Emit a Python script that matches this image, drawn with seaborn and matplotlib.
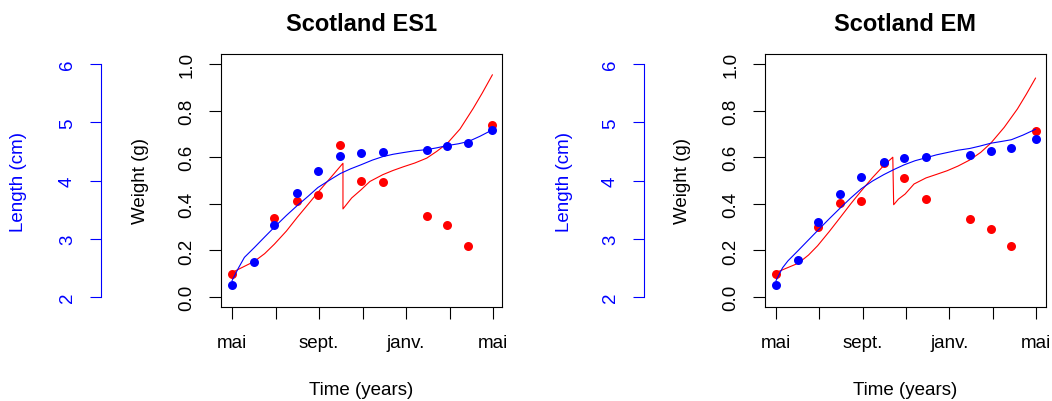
import numpy as np
import pandas as pd
import matplotlib
matplotlib.use("Agg")
import matplotlib.pyplot as plt
import seaborn as sns

# ---------------- data ----------------
titles = ["Scotland ES1", "Scotland EM"]
month_labels = ["mai", "", "sept.", "", "janv.", "", "mai"]
month_ticks = [0, 2, 4, 6, 8, 10, 12]

# ES1 observations
es1_len_t = [0, 1.03, 1.95, 2.99, 3.95, 4.98, 5.93, 6.93, 8.95, 9.90, 10.87, 11.97]
es1_len = [2.20, 2.60, 3.24, 3.78, 4.17, 4.42, 4.47, 4.49, 4.52, 4.59, 4.64, 4.87]
es1_wt_t = [0, 1.95, 2.99, 3.95, 4.98, 5.93, 6.93, 8.95, 9.90, 10.87, 11.97]
es1_wt = [0.099, 0.339, 0.411, 0.439, 0.654, 0.499, 0.494, 0.348, 0.310, 0.220, 0.740]
# ES1 fitted curves
es1_lfit_t = [0, 0.30, 0.57, 1.03, 1.50, 1.95, 2.50, 3.00, 3.50, 3.95, 4.50, 4.98, 5.45, 5.93, 6.45, 6.93,
              7.40, 7.88, 8.40, 8.95, 9.40, 9.90, 10.40, 10.87, 11.40, 11.97]
es1_lfit = [2.28, 2.50, 2.68, 2.85, 3.03, 3.20, 3.40, 3.57, 3.73, 3.88, 4.01, 4.12, 4.20, 4.27, 4.35, 4.41,
            4.45, 4.48, 4.51, 4.53, 4.56, 4.60, 4.63, 4.67, 4.76, 4.87]
es1_wfit_t = [0, 1.03, 1.50, 1.95, 2.50, 3.00, 3.50, 3.95, 4.55, 5.10, 5.10, 5.50, 5.93, 6.34, 6.93, 7.40,
              7.88, 8.40, 8.95, 9.41, 9.90, 10.48, 11.09, 11.50, 11.97]
es1_wfit = [0.105, 0.153, 0.186, 0.227, 0.283, 0.342, 0.398, 0.449, 0.514, 0.574, 0.378, 0.425, 0.460,
            0.496, 0.525, 0.543, 0.559, 0.575, 0.596, 0.625, 0.660, 0.721, 0.810, 0.875, 0.954]

# EM observations
em_len_t = [0, 1.03, 1.92, 2.97, 3.94, 4.97, 5.92, 6.92, 8.94, 9.91, 10.86, 11.98]
em_len = [2.20, 2.64, 3.29, 3.76, 4.06, 4.31, 4.38, 4.40, 4.44, 4.51, 4.55, 4.71]
em_wt_t = [0, 1.92, 2.97, 3.94, 4.97, 5.92, 6.92, 8.94, 9.91, 10.86, 11.98]
em_wt = [0.099, 0.302, 0.402, 0.413, 0.575, 0.509, 0.419, 0.333, 0.290, 0.220, 0.711]
# EM fitted curves
em_lfit_t = [0, 0.30, 0.55, 1.03, 1.50, 1.92, 2.45, 2.97, 3.45, 3.94, 4.45, 4.97, 5.45, 5.92, 6.42, 6.92,
             7.40, 7.90, 8.40, 8.94, 9.40, 9.91, 10.40, 10.86, 11.40, 11.98]
em_lfit = [2.28, 2.50, 2.62, 2.80, 2.98, 3.14, 3.34, 3.53, 3.70, 3.86, 3.99, 4.10, 4.19, 4.27, 4.34, 4.39,
           4.44, 4.48, 4.52, 4.55, 4.59, 4.64, 4.67, 4.70, 4.78, 4.88]
em_wfit_t = [0, 1.03, 1.50, 1.92, 2.45, 2.97, 3.45, 3.94, 4.45, 4.97, 5.39, 5.43, 5.65, 5.96, 6.37, 6.92,
             7.40, 7.90, 8.40, 8.94, 9.45, 9.91, 10.53, 11.14, 11.55, 11.98]
em_wfit = [0.105, 0.145, 0.180, 0.220, 0.280, 0.342, 0.400, 0.456, 0.512, 0.564, 0.600, 0.396, 0.420,
           0.442, 0.485, 0.511, 0.526, 0.542, 0.562, 0.588, 0.621, 0.660, 0.728, 0.807, 0.870, 0.940]

panels = [
    (es1_len_t, es1_len, es1_wt_t, es1_wt, es1_lfit_t, es1_lfit, es1_wfit_t, es1_wfit),
    (em_len_t, em_len, em_wt_t, em_wt, em_lfit_t, em_lfit, em_wfit_t, em_wfit),
]

# ---------------- style ----------------
sns.set_style("ticks")
plt.rcParams['font.family'] = ['Liberation Sans', 'DejaVu Sans']
plt.rcParams['axes.linewidth'] = 0.8
plt.rcParams['text.color'] = 'black'
plt.rcParams['axes.labelcolor'] = 'black'
plt.rcParams['xtick.color'] = 'black'
plt.rcParams['ytick.color'] = 'black'

W, H = 1052, 402
fig = plt.figure(figsize=(W / 100, H / 100), dpi=100)

FS = 13.5
box_lefts = [221, 765]
box_top, box_bot, box_w = 55, 308, 281
xlims = [(-0.506, 12.41), (-0.508, 12.46)]
ylab_w = [-0.288, -0.295]
ylab_l = [-0.722, -0.712]
outward_px = [120, 121]

for i, (lt, lv, wt_t, wv, lft, lf, wft, wf) in enumerate(panels):
    left = box_lefts[i]
    ax = fig.add_axes([left / W, (H - box_bot) / H, box_w / W, (box_bot - box_top) / H])
    ax2 = ax.twinx()

    # weight (red) on main axis
    sns.lineplot(x=wft, y=wf, ax=ax, color="red", linewidth=0.8, sort=False, estimator=None)
    sns.scatterplot(x=wt_t, y=wv, ax=ax, color="red", s=42, linewidth=0, zorder=3)
    # length (blue) on secondary axis
    sns.lineplot(x=lft, y=lf, ax=ax2, color="blue", linewidth=0.8, sort=False, estimator=None)
    sns.scatterplot(x=lt, y=lv, ax=ax2, color="blue", s=42, linewidth=0, zorder=3)

    ax.set_xlim(*xlims[i])
    ax.set_ylim(-0.043, 1.043)
    ax2.set_ylim(2 - 4 * 0.043, 2 + 4 * 1.043)

    for s in ax.spines.values():
        s.set_visible(True)
        s.set_color("black")
        s.set_linewidth(0.8)

    ax.set_xticks(month_ticks)
    ax.set_xticklabels(month_labels)
    ax.set_yticks([0, 0.2, 0.4, 0.6, 0.8, 1.0])
    ax.set_yticklabels(["0.0", "0.2", "0.4", "0.6", "0.8", "1.0"])
    ax.tick_params(axis='x', length=8.5, width=0.8, color="black", labelcolor="black",
                   labelsize=FS, pad=11)
    ax.tick_params(axis='y', length=8.5, width=0.8, color="black", labelcolor="black",
                   labelsize=FS, pad=10, labelrotation=90)
    for lab in ax.get_yticklabels():
        lab.set_va('center')

    ax.set_xlabel("Time (years)", fontsize=FS, color="black")
    ax.xaxis.set_label_coords(0.5, -0.328)
    ax.xaxis.label.set_va('center')
    ax.set_ylabel("Weight (g)", fontsize=FS, color="black")
    ax.yaxis.set_label_coords(ylab_w[i], 0.5)
    ax.yaxis.label.set_va('center')

    ax.set_title(titles[i], fontsize=17, fontweight='bold', color="black",
                 y=1.122, pad=0, va='center')

    # secondary length axis on the left, offset outward
    for k in ["top", "right", "bottom"]:
        ax2.spines[k].set_visible(False)
    ax2.spines["left"].set_visible(True)
    ax2.spines["left"].set_position(('outward', outward_px[i] * 0.72))
    ax2.spines["left"].set_color("blue")
    ax2.spines["left"].set_linewidth(0.8)
    ax2.spines["left"].set_bounds(2, 6)
    ax2.yaxis.tick_left()
    ax2.yaxis.set_label_position('left')
    ax2.set_yticks([2, 3, 4, 5, 6])
    ax2.set_yticklabels(["2", "3", "4", "5", "6"])
    ax2.tick_params(axis='y', length=8, width=0.8, color="blue", labelcolor="blue",
                    labelsize=FS, pad=10, labelrotation=90)
    for lab in ax2.get_yticklabels():
        lab.set_va('center')
    ax2.set_ylabel("Length (cm)", fontsize=FS, color="blue")
    ax2.yaxis.set_label_coords(ylab_l[i], 0.5)
    ax2.yaxis.label.set_va('center')

fig.savefig("out.png", dpi=100)
